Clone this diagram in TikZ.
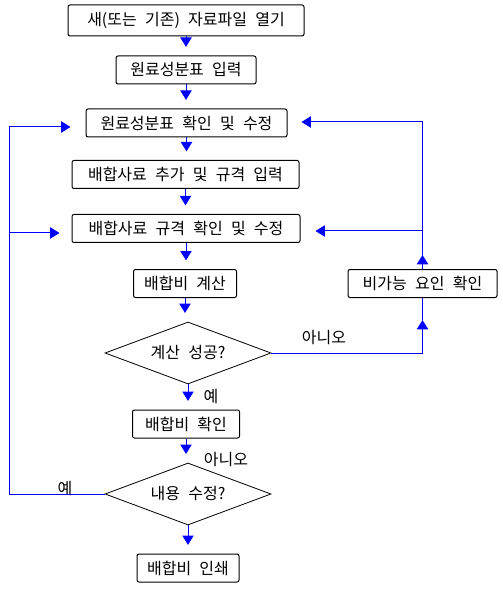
\documentclass[tikz,border=0pt]{standalone}
\usepackage{fontspec}
\setmainfont{Noto Sans CJK KR}[WordSpace=2.3]
\usetikzlibrary{arrows.meta,shapes.geometric}
\definecolor{flowblue}{RGB}{0,0,255}

\tikzset{
    stepbox/.style={draw, rounded corners=1.5pt, line width=0.75pt, minimum height=21pt, inner sep=1pt, font=\fontsize{12}{14}\selectfont},
    askbox/.style={draw, diamond, aspect=2.66, line width=0.6pt, minimum width=124.5pt, minimum height=46.5pt, inner sep=0pt, font=\fontsize{12}{14}\selectfont},
    answer/.style={font=\fontsize{12}{14}\selectfont, inner sep=0pt},
    link/.style={flowblue, line width=0.75pt},
    flow/.style={link, -{Triangle[length=7pt,width=8.5pt]}}
}

\begin{document}
\begin{tikzpicture}[x=0.75pt, y=-0.75pt]
            \useasboundingbox (0,0) rectangle (502,591);

            % Steps
            \node[stepbox, minimum width=177pt, minimum height=23.25pt] (b1) at (186,20.5) {새(또는 기존) 자료파일 열기};
            \node[stepbox, minimum width=105pt] (b2) at (186,70) {원료성분표 입력};
            \node[stepbox, minimum width=150.75pt] (b3) at (186.5,123) {원료성분표 확인 및 수정};
            \node[stepbox, minimum width=170.25pt] (b4) at (185.5,174.5) {배합사료 추가 및 규격 입력};
            \node[stepbox, minimum width=171pt] (b5) at (186,228.5) {배합사료 규격 확인 및 수정};
            \node[stepbox, minimum width=77.25pt] (b6) at (185,283.5) {배합비 계산};
            \node[askbox] (d1) at (188,353) {계산 성공?};
            \node[stepbox, minimum width=111.75pt] (b7) at (422.5,283.5) {비가능 요인 확인};
            \node[stepbox, minimum width=80.25pt] (b8) at (186,424) {배합비 확인};
            \node[askbox] (d2) at (188,494) {내용 수정?};
            \node[stepbox, minimum width=76.5pt] (b9) at (188,568) {배합비 인쇄};

            % Answers
            \node[answer] (no1) at (324,338) {아니오};
            \node[answer] (yes1) at (211,397) {예};
            \node[answer] (no2) at (226,460) {아니오};
            \node[answer] (yes2) at (65,489) {예};

            % Main flow
            \foreach \a/\b in {b1/b2, b2/b3, b3/b4, b4/b5, b5/b6, b6/d1, d1/b8, b8/d2, d2/b9}
                \draw[flow, shorten >=6.5pt] (\a.south) -- (\a.south |- \b.north);

            % Loop back on the left
            \coordinate (lt) at (9,127);
            \coordinate (lm) at (9,233);
            \draw[link] (d2.west) -| (lt);
            \draw[flow, shorten >=11.25pt] (lt) -- (lt -| b3.west);
            \draw[flow, shorten >=9pt] (lm) -- (lm -| b5.west);

            % Loop back on the right
            \coordinate (rt) at (422.5,122);
            \coordinate (rm) at (422.5,231);
            \coordinate (ru) at (422.5,255);
            \coordinate (rd) at (422.5,320);
            \draw[flow] (d1.east) -| (rd);
            \draw[link] (rd) -- (b7.south);
            \draw[flow] (b7.north) -- (ru);
            \draw[link] (ru) -- (rt);
            \draw[flow, shorten >=10.5pt] (rt) -- (rt -| b3.east);
            \draw[flow, shorten >=11.25pt] (rm) -- (rm -| b5.east);
        \end{tikzpicture}
\end{document}
